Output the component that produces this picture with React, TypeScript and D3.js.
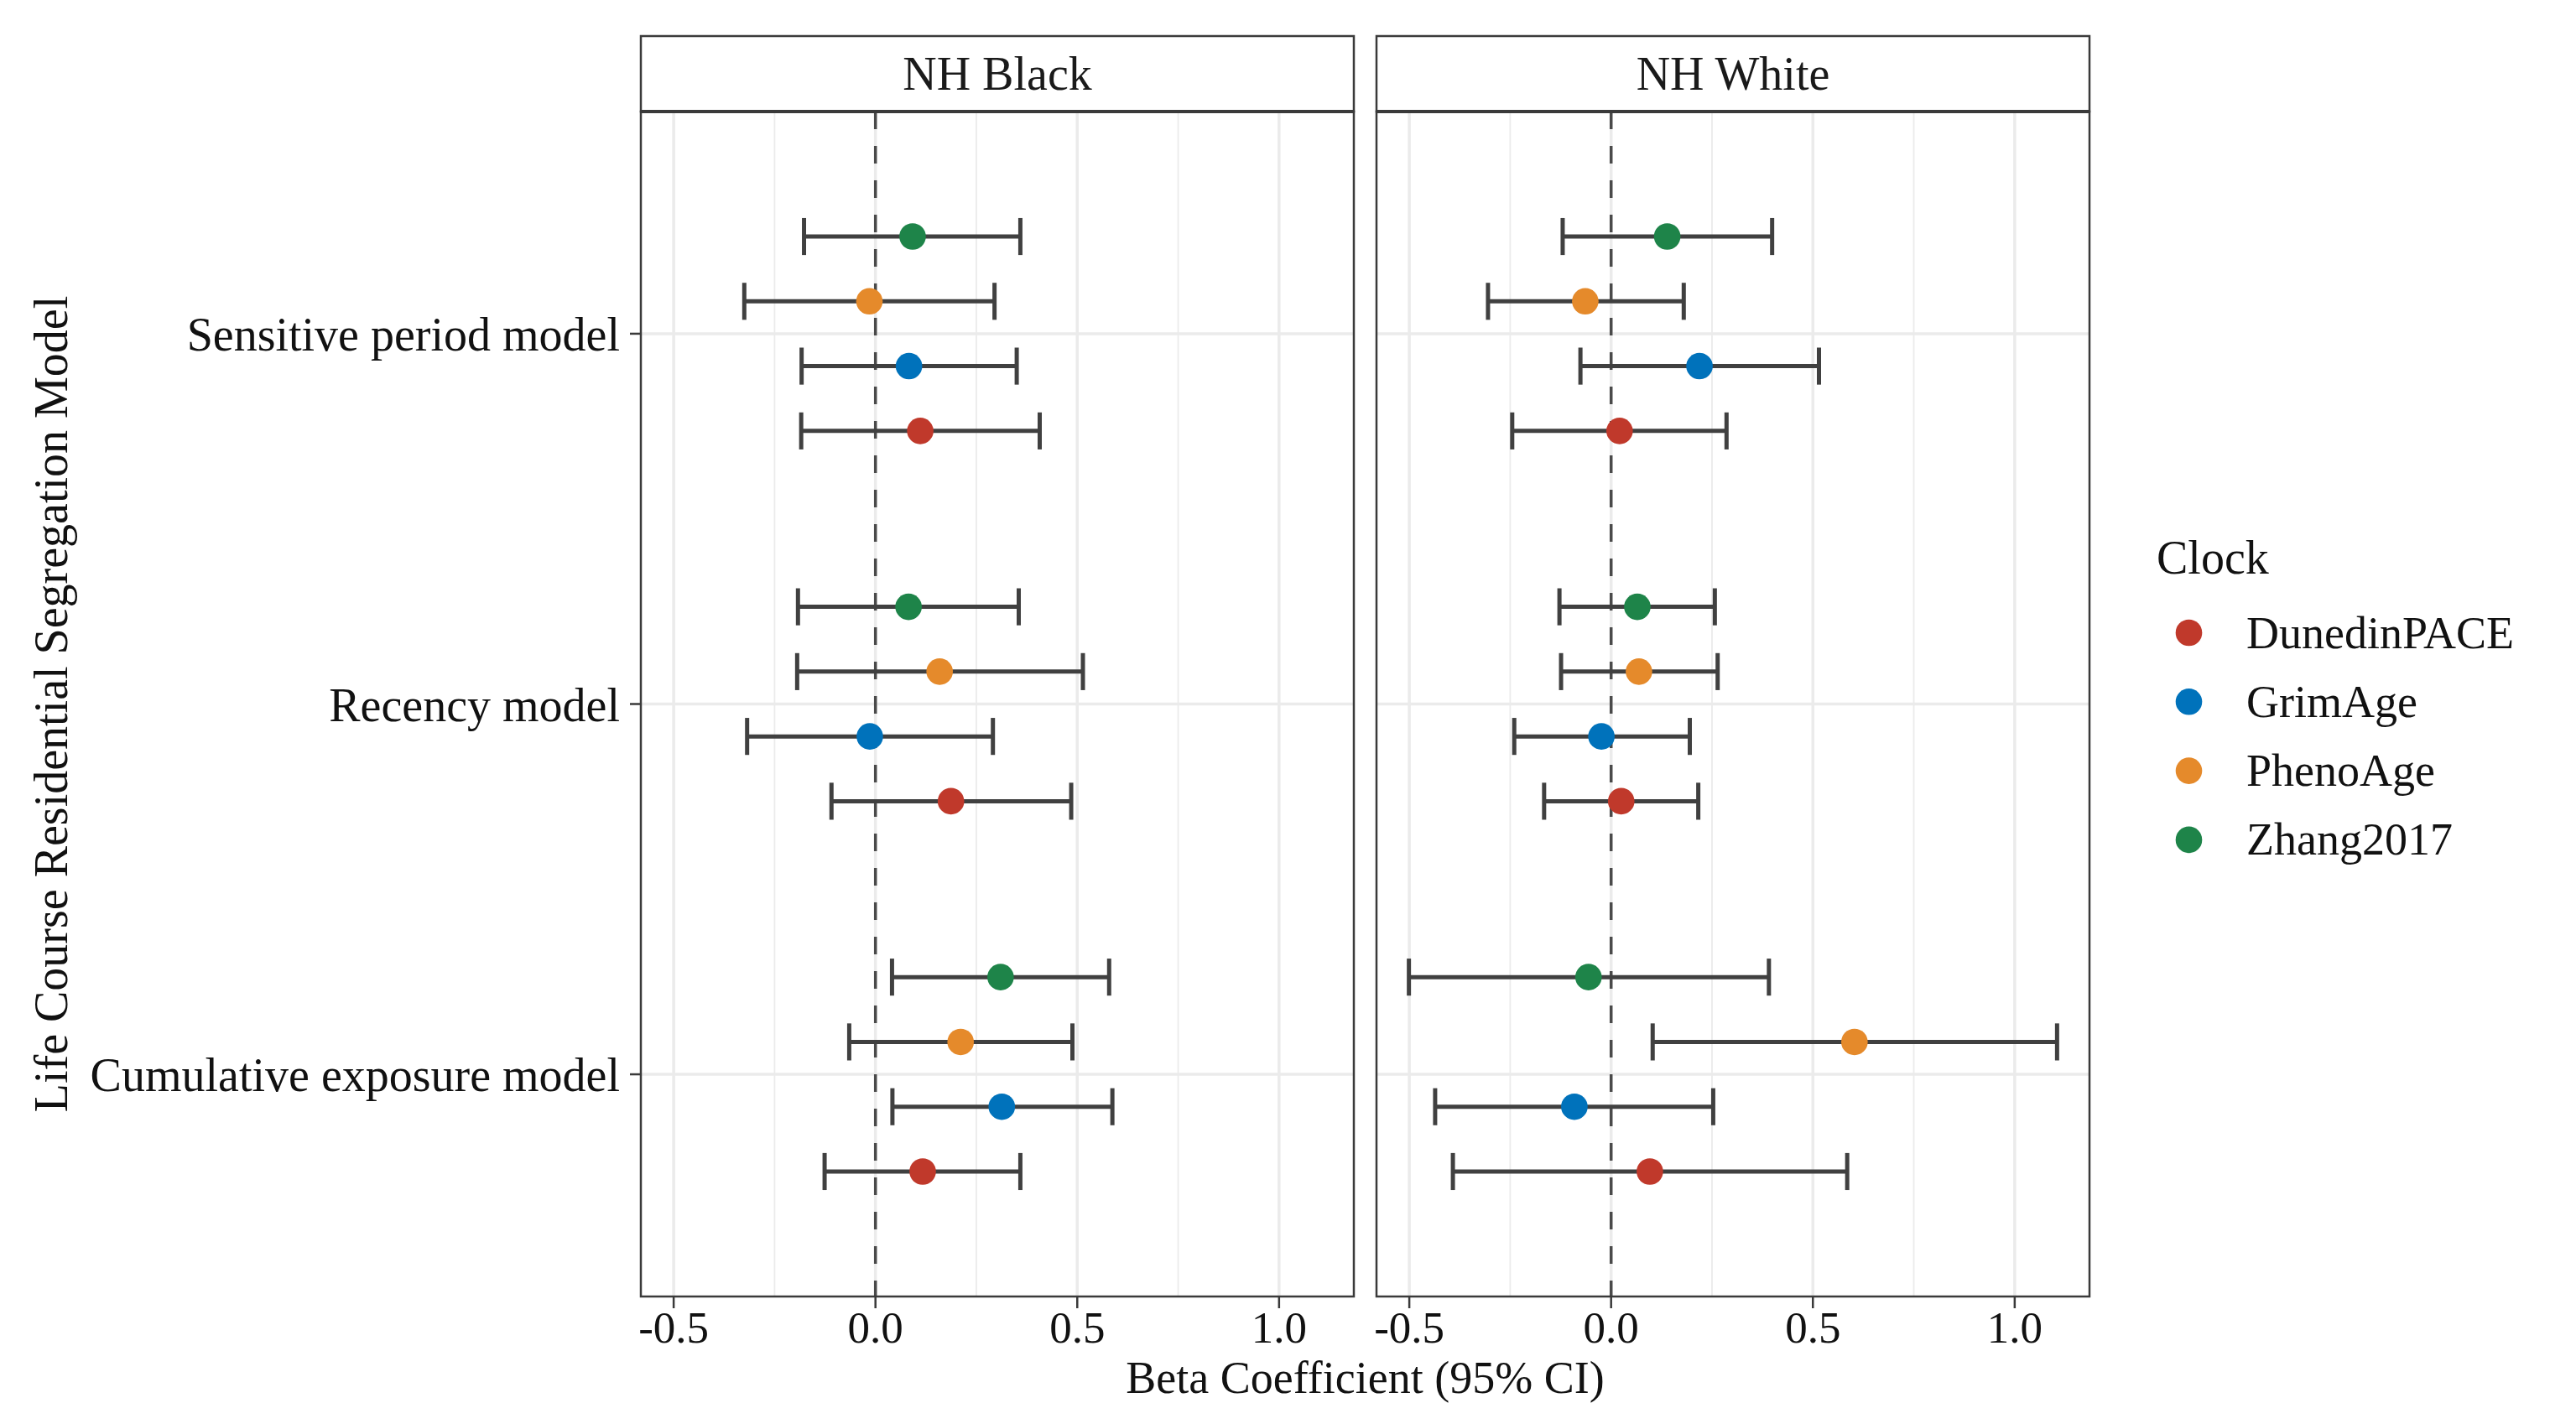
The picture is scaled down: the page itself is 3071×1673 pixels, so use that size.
import React from "react";
import * as d3 from "d3";

// ---------- data ----------
const panels = ["NH Black", "NH White"];
const models = ["Sensitive period model", "Recency model", "Cumulative exposure model"];
// y level of each model (bottom = 1)
const modelLevels = [3, 2, 1];
const clocks = ["DunedinPACE", "GrimAge", "PhenoAge", "Zhang2017"];
const clockColors = ["#C0392B", "#0072BB", "#E58A2B", "#1E8449"];
const xTicks = [-0.5, 0, 0.5, 1.0];
const xTickLabels = ["-0.5", "0.0", "0.5", "1.0"];
const xMinorTicks = [-0.25, 0.25, 0.75];

// [model][clock] : DunedinPACE, GrimAge, PhenoAge, Zhang2017
const blackEst = [
  [0.111, 0.083, -0.015, 0.092],
  [0.187, -0.014, 0.159, 0.082],
  [0.117, 0.313, 0.211, 0.31],
];
const blackLo = [
  [-0.184, -0.183, -0.325, -0.177],
  [-0.109, -0.318, -0.194, -0.192],
  [-0.126, 0.042, -0.065, 0.041],
];
const blackHi = [
  [0.407, 0.35, 0.295, 0.359],
  [0.485, 0.291, 0.514, 0.355],
  [0.359, 0.587, 0.488, 0.579],
];
const whiteEst = [
  [0.021, 0.219, -0.064, 0.139],
  [0.025, -0.024, 0.069, 0.065],
  [0.096, -0.091, 0.603, -0.056],
];
const whiteLo = [
  [-0.245, -0.076, -0.305, -0.12],
  [-0.166, -0.24, -0.124, -0.128],
  [-0.392, -0.436, 0.103, -0.501],
];
const whiteHi = [
  [0.286, 0.515, 0.18, 0.399],
  [0.216, 0.195, 0.264, 0.257],
  [0.585, 0.253, 1.105, 0.391],
];

const panelData = [
  { est: blackEst, lo: blackLo, hi: blackHi },
  { est: whiteEst, lo: whiteLo, hi: whiteHi },
];

// ---------- layout ----------
const W = 3071;
const H = 1673;
const FONT = "'Liberation Serif', 'Times New Roman', serif";
const stripTop = 43;
const panelTop = 133;
const panelBottom = 1546;
const panelXs = [
  [764, 1614],
  [1641, 2491],
];
const gridCol = "#EBEBEB";
const borderCol = "#3a3a3a";
const barCol = "#404040";
const dodgeWidth = 0.7;
const errHalf = 0.05;

export default function App() {
  const allLo = d3.min(panelData.flatMap((p) => p.lo.flat())) as number;
  const allHi = d3.max(panelData.flatMap((p) => p.hi.flat())) as number;
  const pad = (allHi - allLo) * 0.05;
  const xDomain = [allLo - pad, allHi + pad];

  const y = d3.scaleLinear().domain([0.4, 3.6]).range([panelBottom, panelTop]);
  const step = dodgeWidth / clocks.length;

  return (
    <svg
      width={W}
      height={H}
      style={{ position: "absolute", left: 0, top: 0, background: "#fff" }}
      fontFamily={FONT}
    >
      <rect x={0} y={0} width={W} height={H} fill="#fff" />
      {panels.map((pname, pi) => {
        const [x0, x1] = panelXs[pi];
        const x = d3.scaleLinear().domain(xDomain).range([x0, x1]);
        const d = panelData[pi];
        return (
          <g key={pname}>
            {/* minor grid */}
            {xMinorTicks.map((t) => (
              <line key={"mn" + t} x1={x(t)} x2={x(t)} y1={panelTop} y2={panelBottom} stroke={gridCol} strokeWidth={1.8} />
            ))}
            {/* major grid */}
            {xTicks.map((t) => (
              <line key={"mj" + t} x1={x(t)} x2={x(t)} y1={panelTop} y2={panelBottom} stroke={gridCol} strokeWidth={3.5} />
            ))}
            {modelLevels.map((lv, mi) => (
              <line key={"hy" + mi} x1={x0} x2={x1} y1={y(lv)} y2={y(lv)} stroke={gridCol} strokeWidth={3.5} />
            ))}
            {/* zero line */}
            <line x1={x(0)} x2={x(0)} y1={panelTop} y2={panelBottom} stroke="#4a4a4a" strokeWidth={3.5} strokeDasharray="21 20" />
            {/* error bars and points */}
            {models.map((m, mi) =>
              clocks.map((c, ci) => {
                const yv = modelLevels[mi] + (ci - (clocks.length - 1) / 2) * step;
                const yc = y(yv);
                const yT = y(yv + errHalf);
                const yB = y(yv - errHalf);
                const lo = x(d.lo[mi][ci]);
                const hi = x(d.hi[mi][ci]);
                return (
                  <g key={m + c}>
                    <line x1={lo} x2={hi} y1={yc} y2={yc} stroke={barCol} strokeWidth={5} />
                    <line x1={lo} x2={lo} y1={yT} y2={yB} stroke={barCol} strokeWidth={5} />
                    <line x1={hi} x2={hi} y1={yT} y2={yB} stroke={barCol} strokeWidth={5} />
                    <circle cx={x(d.est[mi][ci])} cy={yc} r={15.8} fill={clockColors[ci]} />
                  </g>
                );
              })
            )}
            {/* panel border */}
            <rect x={x0} y={panelTop} width={x1 - x0} height={panelBottom - panelTop} fill="none" stroke={borderCol} strokeWidth={2.5} />
            {/* strip */}
            <rect x={x0} y={stripTop} width={x1 - x0} height={panelTop - stripTop} fill="#fff" stroke={borderCol} strokeWidth={2.5} />
            <line x1={x0} x2={x1} y1={panelTop} y2={panelTop} stroke={borderCol} strokeWidth={4} />
            <text x={(x0 + x1) / 2} y={107} textAnchor="middle" fontSize={56} fill="#1a1a1a">
              {pname}
            </text>
            {/* x axis ticks */}
            {xTicks.map((t, ti) => (
              <g key={"xt" + t}>
                <line x1={x(t)} x2={x(t)} y1={panelBottom} y2={panelBottom + 14} stroke={borderCol} strokeWidth={2.5} />
                <text x={x(t)} y={1601} textAnchor="middle" fontSize={53} fill="#111">
                  {xTickLabels[ti]}
                </text>
              </g>
            ))}
          </g>
        );
      })}
      {/* y axis ticks and labels */}
      {models.map((m, mi) => (
        <g key={"yl" + m}>
          <line x1={751} x2={panelXs[0][0]} y1={y(modelLevels[mi])} y2={y(modelLevels[mi])} stroke={borderCol} strokeWidth={2.5} />
          <text x={739} y={y(modelLevels[mi]) + 20} textAnchor="end" fontSize={56} fill="#111">
            {m}
          </text>
        </g>
      ))}
      {/* axis titles */}
      <text x={(panelXs[0][0] + panelXs[1][1]) / 2} y={1661} textAnchor="middle" fontSize={54} fill="#111">
        Beta Coefficient (95% CI)
      </text>
      <text
        transform={`translate(80, ${(panelTop + panelBottom) / 2}) rotate(-90)`}
        textAnchor="middle"
        fontSize={56}
        fill="#111"
      >
        Life Course Residential Segregation Model
      </text>
      {/* legend */}
      <text x={2571} y={684} fontSize={56} fill="#111">
        Clock
      </text>
      {clocks.map((c, ci) => {
        const cy = 754.5 + ci * 82.3;
        return (
          <g key={"lg" + c}>
            <circle cx={2609.5} cy={cy} r={15.8} fill={clockColors[ci]} />
            <text x={2678} y={cy + 18} fontSize={54} fill="#111">
              {c}
            </text>
          </g>
        );
      })}
    </svg>
  );
}
